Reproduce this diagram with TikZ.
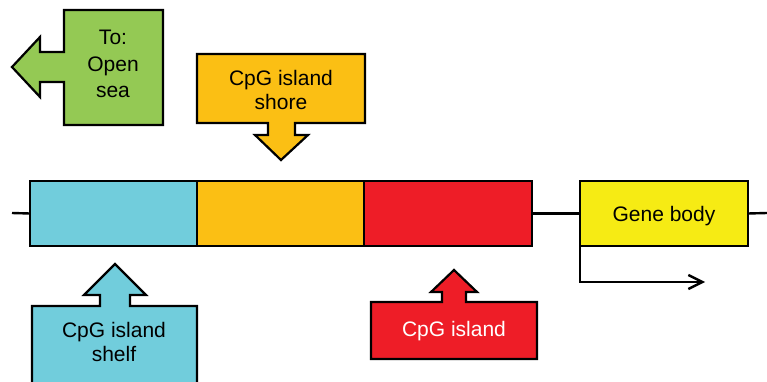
\documentclass[tikz,border=0pt]{standalone}
\usepackage{fontspec}
\setmainfont{Liberation Sans}
\usetikzlibrary{arrows.meta}
\definecolor{cgreen}{HTML}{94C954}
\definecolor{cblue}{HTML}{71CDDC}
\definecolor{corange}{HTML}{FBBF14}
\definecolor{cred}{HTML}{EE1D27}
\definecolor{cyellow}{HTML}{F6EB14}
\tikzset{
  seg/.style={draw=black, line width=2.2pt, minimum width=167pt, minimum height=65pt, inner sep=0pt, outer sep=0pt},
  callout/.style={draw=black, line width=2.2pt, line join=miter},
  lab/.style={align=center, font=\fontsize{21}{24}\selectfont, inner sep=0pt},
  wire/.style={line width=2.4pt},
}
\begin{document}
\begin{tikzpicture}[x=1pt,y=-1pt]
\useasboundingbox (0,0) rectangle (767,382);
% baseline wires
\coordinate (lstart) at (12,213);
\coordinate (rend) at (767,213);
% segments
\node[seg, fill=cblue, anchor=north west] (shelf) at (30,181) {};
\node[seg, fill=corange, anchor=north west] (shore) at (197,181) {};
\node[seg, fill=cred, anchor=north west, minimum width=168pt] (island) at (364,181) {};
\node[seg, fill=cyellow, anchor=north west, minimum width=168pt] (gene) at (580,181) {};
\node[lab] (genelab) at ([yshift=-3pt]gene.center) {Gene body};
\draw[wire] (lstart) -- (shelf.west);
\draw[wire] (island.east) -- (gene.west);
\draw[wire] (gene.east) -- (rend);
% promoter arrow
\coordinate (tss) at (705,282);
\draw[wire, -{Straight Barb[length=14pt,width=14pt,line width=2.4pt]}] (gene.south west) |- (tss);
% green callout: open sea
\draw[callout, fill=cgreen] (163,10) -- (64,10) -- (64,52) -- (40,52) -- (40,37) -- (12,67) -- (40,97) -- (40,82) -- (64,82) -- (64,125) -- (163,125) -- cycle;
\node[lab, font=\fontsize{21}{26.5}\selectfont] (opensea) at (113,64) {To:\\Open\\sea};
% orange callout: shore
\draw[callout, fill=corange] (197,54) -- (365,54) -- (365,123) -- (295,123) -- (295,135) -- (308,135) -- (281,160) -- (255,135) -- (268,135) -- (268,123) -- (197,123) -- cycle;
\node[lab] (shorelab) at (281,90) {CpG island\\shore};
% blue callout: shelf
\draw[callout, fill=cblue] (32,392) -- (32,306) -- (100,306) -- (100,295) -- (84,295) -- (115,264) -- (146,295) -- (130,295) -- (130,306) -- (197,306) -- (197,392);
\node[lab] (shelflab) at (114,342) {CpG island\\shelf};
% red callout: island
\draw[callout, fill=cred] (371,302) -- (442,302) -- (442,292) -- (431,292) -- (454,270) -- (477,292) -- (466,292) -- (466,302) -- (537,302) -- (537,359) -- (371,359) -- cycle;
\node[lab, text=white] (islandlab) at (454,331) {CpG island};
\end{tikzpicture}
\end{document}
